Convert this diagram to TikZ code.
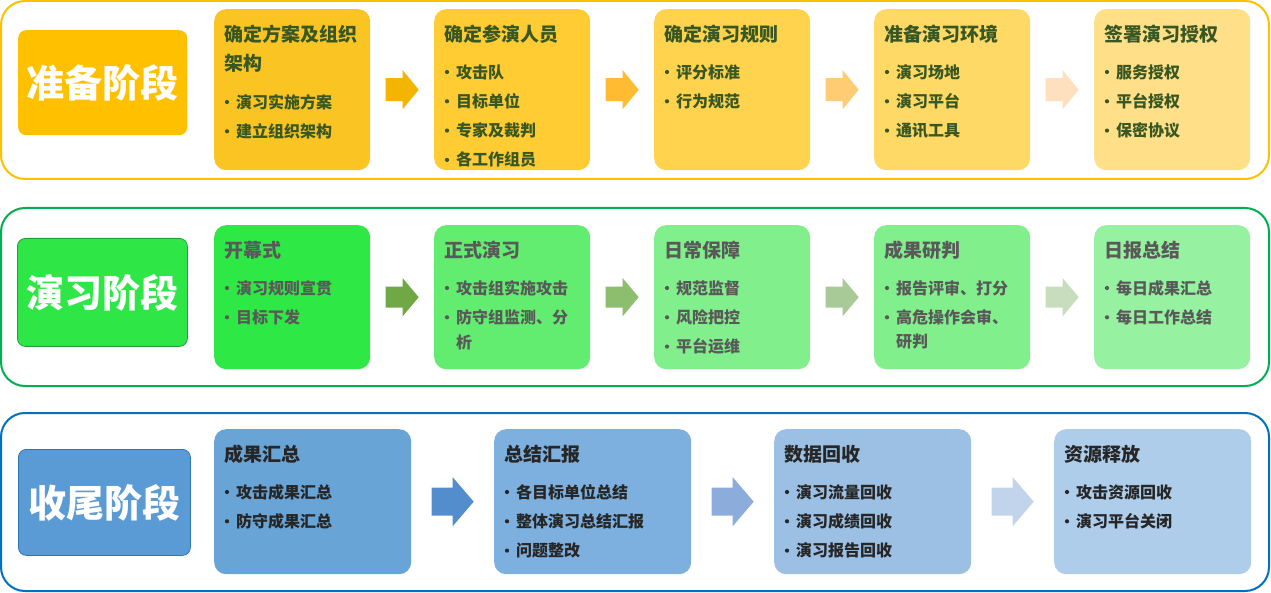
\documentclass[tikz,border=0pt]{standalone}
\usepackage{fontspec}
\setmainfont{Noto Sans CJK SC}
\usetikzlibrary{calc}
\definecolor{fY}{RGB}{255,192,0}
\definecolor{fG}{RGB}{0,176,80}
\definecolor{fB}{RGB}{0,112,192}
\definecolor{lY}{RGB}{255,192,0}
\definecolor{lG}{RGB}{46,230,70}
\definecolor{lGb}{RGB}{30,160,60}
\definecolor{lB}{RGB}{91,155,213}
\definecolor{lBb}{RGB}{46,117,182}
\definecolor{y1}{RGB}{250,196,34}
\definecolor{y2}{RGB}{255,204,51}
\definecolor{y3}{RGB}{255,211,77}
\definecolor{y4}{RGB}{255,217,102}
\definecolor{y5}{RGB}{255,224,136}
\definecolor{ya1}{RGB}{243,181,0}
\definecolor{ya2}{RGB}{255,188,50}
\definecolor{ya3}{RGB}{255,203,115}
\definecolor{ya4}{RGB}{255,224,190}
\definecolor{g1}{RGB}{46,232,70}
\definecolor{g2}{RGB}{98,236,112}
\definecolor{g3}{RGB}{128,239,140}
\definecolor{g4}{RGB}{128,239,140}
\definecolor{g5}{RGB}{150,241,160}
\definecolor{ga1}{RGB}{112,168,70}
\definecolor{ga2}{RGB}{140,190,110}
\definecolor{ga3}{RGB}{168,202,150}
\definecolor{ga4}{RGB}{200,220,190}
\definecolor{b1}{RGB}{104,164,214}
\definecolor{b2}{RGB}{125,176,222}
\definecolor{b3}{RGB}{155,192,228}
\definecolor{b4}{RGB}{173,205,234}
\definecolor{ba1}{RGB}{84,141,205}
\definecolor{ba2}{RGB}{140,172,220}
\definecolor{ba3}{RGB}{194,212,236}
\definecolor{t1}{RGB}{56,87,35}
\definecolor{t2}{RGB}{89,89,89}
\definecolor{t3}{RGB}{38,38,38}
\tikzset{
  frame/.style={line width=2pt, rounded corners=24pt},
  lbl/.style={rounded corners=8pt, text=white, font=\fontsize{38}{40}\selectfont\bfseries, inner sep=0pt, anchor=north west},
  sub/.style={rounded corners=12pt, inner sep=0pt, anchor=north west},
  ttl/.style={anchor=west, inner sep=0pt, text=tc, font=\fontsize{19}{20}\selectfont\bfseries},
  itm/.style={anchor=west, inner sep=0pt, text=tc, font=\fontsize{16}{17}\selectfont\bfseries},
}
\newcommand\stbox[7]{%
  \node[sub, fill=#6, minimum width=#4pt, minimum height=#5pt] (#1) at (#2,#3) {};
  \node[ttl] (#1t) at ([shift={(10,25)}]#1.north west) {#7};}
\newcommand\items[3]{%
  \foreach \t [count=\i] in {#3} {
    \fill[tc] ([shift={(13,#2+29.3*\i-29.3)}]#1.north west) circle (2.1);
    \node[itm] (#1i\i) at ([shift={(22,#2+29.3*\i-29.3)}]#1.north west) {\t};
  }}
\newcommand\barrow[6]{% point, L, H, s, h, color
  \fill[#6] ([shift={(-#2/2,-#4)}]#1) -- ++(#2-#3,0) -- ++(0,#4-#5)
    -- ([shift={(#2/2,0)}]#1) -- ([shift={(#2/2-#3,#5)}]#1) -- ++(0,#4-#5)
    -- ([shift={(-#2/2,#4)}]#1) -- cycle;}
\begin{document}
\begin{tikzpicture}[x=1pt,y=-1pt]
\useasboundingbox (0,0) rectangle (1271,593);
% ---------- row 1
\begin{scope}
\colorlet{tc}{t1}
\draw[frame, draw=fY] (1,1) rectangle (1269,179);
\node[lbl, fill=lY, minimum width=169pt, minimum height=105pt] (L1) at (18,30) {准备阶段};
\stbox{a1}{214}{9}{156}{161}{y1}{确定方案及组织}
\node[ttl] (a1t2) at ([shift={(10,54)}]a1.north west) {架构};
\items{a1}{93}{演习实施方案,建立组织架构}
\stbox{a2}{434}{9}{156}{161}{y2}{确定参演人员}
\items{a2}{63}{攻击队,目标单位,专家及裁判,各工作组员}
\stbox{a3}{654}{9}{156}{161}{y3}{确定演习规则}
\items{a3}{63}{评分标准,行为规范}
\stbox{a4}{874}{9}{156}{161}{y4}{准备演习环境}
\items{a4}{63}{演习场地,演习平台,通讯工具}
\stbox{a5}{1094}{9}{156}{161}{y5}{签署演习授权}
\items{a5}{63}{服务授权,平台授权,保密协议}
\coordinate (am1) at ($(a1.east)!.5!(a2.west)$);
\coordinate (am2) at ($(a2.east)!.5!(a3.west)$);
\coordinate (am3) at ($(a3.east)!.5!(a4.west)$);
\coordinate (am4) at ($(a4.east)!.5!(a5.west)$);
\barrow{am1}{33}{16}{11.5}{19.5}{ya1}
\barrow{am2}{33}{16}{11.5}{19.5}{ya2}
\barrow{am3}{33}{16}{11.5}{19.5}{ya3}
\barrow{am4}{33}{16}{11.5}{19.5}{ya4}
\end{scope}
% ---------- row 2
\begin{scope}
\colorlet{tc}{t2}
\draw[frame, draw=fG] (1,208) rectangle (1269,386);
\node[lbl, fill=lG, draw=lGb, line width=0.8pt, minimum width=170pt, minimum height=108pt] (L2) at (17,238) {演习阶段};
\stbox{g1}{214}{225}{156}{144}{g1}{开幕式}
\items{g1}{63}{演习规则宣贯,目标下发}
\stbox{g2}{434}{225}{156}{144}{g2}{正式演习}
\items{g2}{63}{攻击组实施攻击,防守组监测、分}
\node[itm] (g2w) at ([shift={(22,117)}]g2.north west) {析};
\stbox{g3}{654}{225}{156}{144}{g3}{日常保障}
\items{g3}{63}{规范监督,风险把控,平台运维}
\stbox{g4}{874}{225}{156}{144}{g4}{成果研判}
\items{g4}{63}{报告评审、打分,高危操作会审、}
\node[itm] (g4w) at ([shift={(22,117)}]g4.north west) {研判};
\stbox{g5}{1094}{225}{156}{144}{g5}{日报总结}
\items{g5}{63}{每日成果汇总,每日工作总结}
\coordinate (gm1) at ($(g1.east)!.5!(g2.west)$);
\coordinate (gm2) at ($(g2.east)!.5!(g3.west)$);
\coordinate (gm3) at ($(g3.east)!.5!(g4.west)$);
\coordinate (gm4) at ($(g4.east)!.5!(g5.west)$);
\barrow{gm1}{33}{16}{10.5}{19}{ga1}
\barrow{gm2}{33}{16}{10.5}{19}{ga2}
\barrow{gm3}{33}{16}{10.5}{19}{ga3}
\barrow{gm4}{33}{16}{10.5}{19}{ga4}
\end{scope}
% ---------- row 3
\begin{scope}
\colorlet{tc}{t3}
\draw[frame, draw=fB] (1,413) rectangle (1269,591);
\node[lbl, fill=lB, draw=lBb, line width=0.8pt, minimum width=172pt, minimum height=106pt] (L3) at (18,449) {收尾阶段};
\stbox{c1}{214}{429}{197}{145}{b1}{成果汇总}
\items{c1}{63}{攻击成果汇总,防守成果汇总}
\stbox{c2}{494}{429}{197}{145}{b2}{总结汇报}
\items{c2}{63}{各目标单位总结,整体演习总结汇报,问题整改}
\stbox{c3}{774}{429}{197}{145}{b3}{数据回收}
\items{c3}{63}{演习流量回收,演习成绩回收,演习报告回收}
\stbox{c4}{1054}{429}{197}{145}{b4}{资源释放}
\items{c4}{63}{攻击资源回收,演习平台关闭}
\coordinate (cm1) at ($(c1.east)!.5!(c2.west)$);
\coordinate (cm2) at ($(c2.east)!.5!(c3.west)$);
\coordinate (cm3) at ($(c3.east)!.5!(c4.west)$);
\barrow{cm1}{42}{21}{14}{24.5}{ba1}
\barrow{cm2}{42}{21}{14}{24.5}{ba2}
\barrow{cm3}{42}{21}{14}{24.5}{ba3}
\end{scope}
\end{tikzpicture}
\end{document}
